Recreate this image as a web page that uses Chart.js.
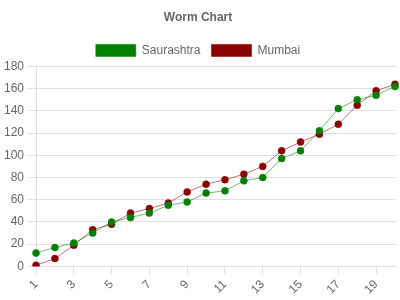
<!DOCTYPE html>
<html>
<head>
<meta charset="utf-8">
<script src="https://cdn.jsdelivr.net/npm/chart.js@4/dist/chart.umd.min.js"></script>
<style>
  body { margin: 0; background: #fff; }
  #wrap { width: 400px; height: 300px; }
</style>
</head>
<body>
<div id="wrap"><canvas id="wormChart"></canvas></div>
<script>
const overs = ['1','2','3','4','5','6','7','8','9','10','11','12','13','14','15','16','17','18','19','20'];
const saurashtra = [12, 17, 21, 30, 40, 44, 48, 55, 58, 66, 68, 77, 80, 97, 104, 122, 142, 150, 154, 162];
const mumbai = [1, 7, 19, 33, 38, 48, 52, 57, 67, 74, 78, 83, 90, 104, 112, 119, 128, 145, 158, 164];

Chart.defaults.font.family = "'Liberation Sans', Arial, sans-serif";
Chart.defaults.font.size = 12;
Chart.defaults.color = '#666';

const ctx = document.getElementById('wormChart').getContext('2d');
new Chart(ctx, {
    type: 'line',
    data: {
        labels: overs,
        datasets: [{
            label: 'Saurashtra',
            data: saurashtra,
            borderColor: 'rgba(0, 128, 0, 0.55)',
            backgroundColor: '#008000',
            pointBackgroundColor: '#008000',
            pointBorderColor: 'rgba(0, 128, 0, 0.5)',
            borderWidth: 1,
            pointRadius: 3.5,
            pointBorderWidth: 1,
            fill: false,
            tension: 0
        }, {
            label: 'Mumbai',
            data: mumbai,
            borderColor: 'rgba(139, 0, 0, 0.55)',
            backgroundColor: '#8b0000',
            pointBackgroundColor: '#8b0000',
            pointBorderColor: 'rgba(139, 0, 0, 0.5)',
            borderWidth: 1,
            pointRadius: 3.5,
            pointBorderWidth: 1,
            fill: false,
            tension: 0
        }]
    },
    options: {
        responsive: true,
        maintainAspectRatio: false,
        animation: false,
        layout: { padding: { left: 0, right: 4, top: 0, bottom: 0 } },
        plugins: {
            title: {
                display: true,
                text: 'Worm Chart',
                font: { size: 12, weight: 'bold' },
                padding: { top: 10, bottom: 9 }
            },
            legend: {
                position: 'top',
                labels: { boxWidth: 40, boxHeight: 12, padding: 11 }
            }
        },
        scales: {
            x: {
                offset: false,
                ticks: { minRotation: 45, maxRotation: 45, autoSkip: true },
                grid: { drawOnChartArea: false, drawTicks: true, tickLength: 8, color: '#e0e0e0' },
                border: { color: '#e0e0e0' }
            },
            y: {
                min: 0,
                max: 180,
                ticks: { stepSize: 20, padding: 4 },
                grid: { color: '#e0e0e0', tickLength: 8 },
                border: { color: '#e0e0e0' }
            }
        }
    }
});
</script>
</body>
</html>
